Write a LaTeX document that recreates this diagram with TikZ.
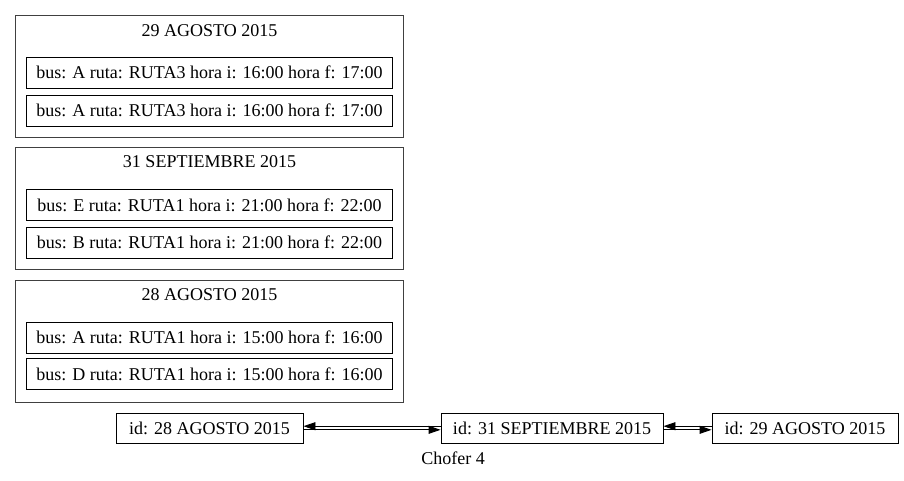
\documentclass[tikz,border=0pt]{standalone}
\usepackage{fontspec}
\setmainfont{Liberation Serif}
\usetikzlibrary{arrows.meta}
\begin{document}
\begin{tikzpicture}[x=1pt,y=-1pt,
  font=\fontsize{18pt}{20pt}\selectfont,
  cluster/.style={draw=black!75,line width=1pt,inner sep=0pt,minimum width=388pt,minimum height=122pt},
  entry/.style={draw,line width=0.9pt,inner sep=0pt,minimum width=366pt,minimum height=31pt},
  idbox/.style={draw,line width=0.9pt,inner sep=0pt,minimum height=30pt},
  title/.style={inner sep=0pt},
  arr/.style={line width=0.9pt,-{Triangle[length=12pt,width=8pt]}}]
\useasboundingbox (0,0) rectangle (904,480);
% cluster 1
\node[cluster] (c1) at (209.5,76) {};
\node[title] (t1) at (209.5,31) {29 AGOSTO 2015};
\node[entry] (e11) at (209.5,72.5) {bus: A ruta: RUTA3 hora i: 16:00 hora f: 17:00};
\node[entry] (e12) at (209.5,110.5) {bus: A ruta: RUTA3 hora i: 16:00 hora f: 17:00};
% cluster 2
\node[cluster] (c2) at (209.5,208.5) {};
\node[title] (t2) at (209.5,162) {31 SEPTIEMBRE 2015};
\node[entry] (e21) at (209.5,205) {bus: E ruta: RUTA1 hora i: 21:00 hora f: 22:00};
\node[entry] (e22) at (209.5,242.5) {bus: B ruta: RUTA1 hora i: 21:00 hora f: 22:00};
% cluster 3
\node[cluster] (c3) at (209.5,341) {};
\node[title] (t3) at (209.5,295) {28 AGOSTO 2015};
\node[entry] (e31) at (209.5,337.5) {bus: A ruta: RUTA1 hora i: 15:00 hora f: 16:00};
\node[entry] (e32) at (209.5,374) {bus: D ruta: RUTA1 hora i: 15:00 hora f: 16:00};
% bottom chain
\node[idbox,minimum width=187pt] (n28) at (209.5,428) {id: 28 AGOSTO 2015};
\node[idbox,minimum width=222pt] (n31) at (552,428) {id: 31 SEPTIEMBRE 2015};
\node[idbox,minimum width=186pt] (n29) at (805,428) {id: 29 AGOSTO 2015};
\draw[arr] ([yshift=1.8pt]n31.west) -- ([yshift=1.8pt]n28.east);
\draw[arr] ([yshift=-1.8pt]n28.east) -- ([yshift=-1.8pt]n31.west);
\draw[arr] ([yshift=1.8pt]n29.west) -- ([yshift=1.8pt]n31.east);
\draw[arr] ([yshift=-1.8pt]n31.east) -- ([yshift=-1.8pt]n29.west);
\node[title] (lbl) at (453,458) {Chofer 4};
\end{tikzpicture}
\end{document}
